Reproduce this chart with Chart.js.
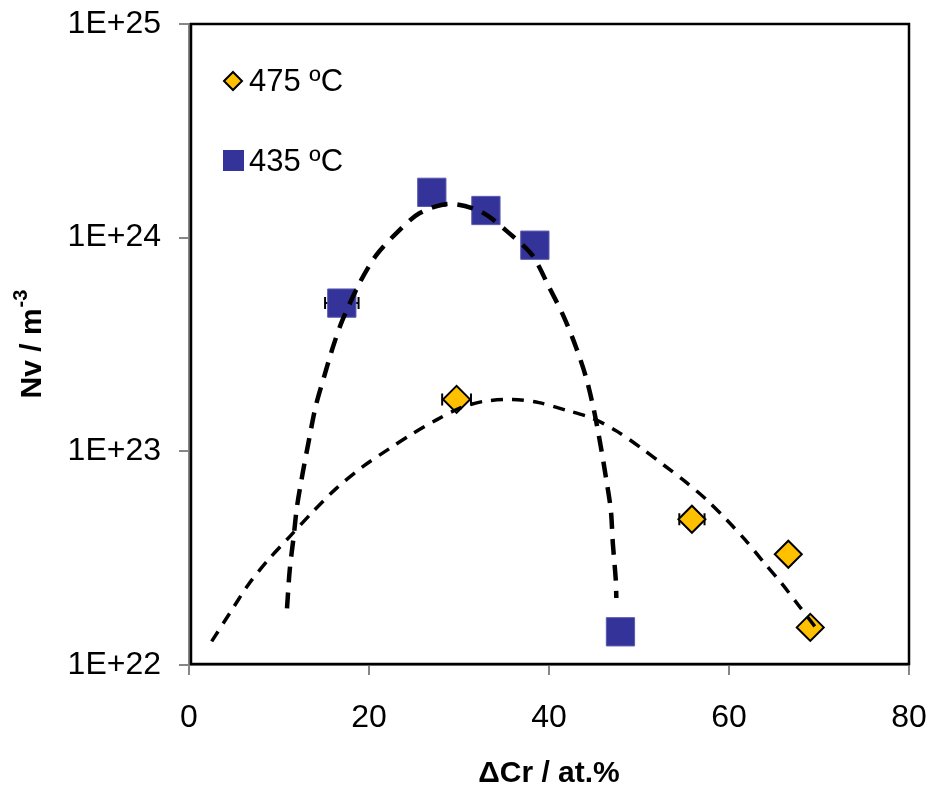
<!DOCTYPE html>
<html lang="en">
<head>
<meta charset="UTF-8">
<title>Nv vs Cr</title>
<script src="https://cdn.jsdelivr.net/npm/chart.js"></script>
<style>
  html, body { margin: 0; padding: 0; background: #fff; }
</style>
</head>
<body>
<canvas id="viz" width="930" height="785"></canvas>
<script>
// measured points
const blueX = [16.98, 26.98, 32.99, 38.43, 47.94]
const blueY = [4.94e23, 1.63e24, 1.34e24, 9.22e23, 1.43e22]
const blueXErr = [1.86, 0, 0, 0, 0]

const yellowX = [29.73, 55.88, 66.59, 69.03]
const yellowY = [1.75e23, 4.81e22, 3.30e22, 1.50e22]
const yellowXErr = [1.6, 1.4, 0, 0]

// trend lines
const blueFitX = [10.89, 11.19, 11.63, 12.00, 12.66, 13.33, 14.07, 15.07, 16.07, 17.06, 18.95, 20.83, 23.05, 25.60, 28.90, 32.47, 35.57, 38.12, 40.00, 41.66, 42.99, 44.10, 44.99, 45.76, 46.32, 46.87, 47.09, 47.42, 47.48]
const blueFitY = [1.84e22, 2.78e22, 3.99e22, 5.51e22, 8.03e22, 1.13e23, 1.62e23, 2.28e23, 3.15e23, 4.12e23, 6.13e23, 8.30e23, 1.05e24, 1.30e24, 1.44e24, 1.32e24, 1.05e24, 8.30e23, 5.88e23, 4.25e23, 3.08e23, 2.23e23, 1.56e23, 1.05e23, 7.58e22, 5.31e22, 3.72e22, 2.50e22, 2.06e22]

const yellowFitX = [2.52, 4.54, 6.57, 8.79, 11.19, 13.60, 16.37, 19.31, 22.27, 24.85, 27.45, 30.03, 32.61, 35.93, 38.89, 41.85, 44.80, 47.57, 50.34, 52.74, 55.15, 57.54, 59.76, 61.80, 63.82, 65.85, 67.70, 70.11]
const yellowFitY = [1.29e22, 1.75e22, 2.37e22, 3.10e22, 3.99e22, 5.13e22, 6.71e22, 8.48e22, 1.03e23, 1.21e23, 1.40e23, 1.59e23, 1.71e23, 1.75e23, 1.69e23, 1.56e23, 1.43e23, 1.24e23, 1.03e23, 8.63e22, 7.21e22, 5.92e22, 4.77e22, 3.85e22, 3.04e22, 2.41e22, 1.91e22, 1.41e22]

const yTickValues = [1e22, 1e23, 1e24, 1e25]
const yTickLabels = ['1E+22', '1E+23', '1E+24', '1E+25']
const seriesNames = ['475 ºC', '435 ºC']

const FONT = "'Liberation Sans', Arial, sans-serif"
const pts = (xs, ys) => xs.map((x, i) => ({ x: x, y: ys[i] }))

// fixed box sizes so the plot area lands where the original one is
const noOverhang = (s) => {
  s.paddingLeft = 0; s.paddingRight = 0; s.paddingTop = 0; s.paddingBottom = 0
}

const frame = {
  id: 'frame',
  beforeDatasetsDraw(chart) {
    const { ctx, scales: { x, y } } = chart
    // error bars behind the markers
    ctx.save()
    ctx.strokeStyle = '#000'
    ctx.lineWidth = 2
    const bars = [[blueX, blueY, blueXErr], [yellowX, yellowY, yellowXErr]]
    bars.forEach(([xs, ys, errs]) => {
      xs.forEach((v, i) => {
        if (!errs[i]) return
        const py = y.getPixelForValue(ys[i])
        const a = x.getPixelForValue(v - errs[i])
        const b = x.getPixelForValue(v + errs[i])
        ctx.beginPath()
        ctx.moveTo(a, py); ctx.lineTo(b, py)
        ctx.moveTo(a, py - 6); ctx.lineTo(a, py + 6)
        ctx.moveTo(b, py - 6); ctx.lineTo(b, py + 6)
        ctx.stroke()
      })
    })
    ctx.restore()
  },
  afterDraw(chart) {
    const { ctx, chartArea: ca } = chart
    ctx.save()
    // plot border
    ctx.strokeStyle = '#000'
    ctx.lineWidth = 2.5
    ctx.strokeRect(ca.left + 2, ca.top, ca.right - ca.left - 2, ca.bottom - ca.top - 1)

    // legend inside the plot
    const lx = ca.left + 44
    ctx.fillStyle = '#FFC000'
    ctx.strokeStyle = '#000'
    ctx.lineWidth = 2
    ctx.beginPath()
    ctx.moveTo(lx - 9, ca.top + 57)
    ctx.lineTo(lx, ca.top + 48)
    ctx.lineTo(lx + 9, ca.top + 57)
    ctx.lineTo(lx, ca.top + 66)
    ctx.closePath()
    ctx.fill(); ctx.stroke()
    ctx.fillStyle = '#333399'
    ctx.fillRect(lx - 10, ca.top + 126, 21, 21)

    ctx.fillStyle = '#000'
    ctx.font = '31px ' + FONT
    ctx.textBaseline = 'middle'
    ctx.textAlign = 'left'
    ctx.fillText(seriesNames[0], lx + 16, ca.top + 58)
    ctx.fillText(seriesNames[1], lx + 16, ca.top + 138)

    // y title with superscript
    ctx.translate(31, (ca.top + ca.bottom) / 2)
    ctx.rotate(-Math.PI / 2)
    ctx.font = 'bold 30px ' + FONT
    const main = 'Nv / m'
    const w1 = ctx.measureText(main).width
    ctx.font = 'bold 20px ' + FONT
    const w2 = ctx.measureText('-3').width
    const sx = -(w1 + w2) / 2
    ctx.font = 'bold 30px ' + FONT
    ctx.fillText(main, sx, 2)
    ctx.font = 'bold 20px ' + FONT
    ctx.fillText('-3', sx + w1 + 1, -10)
    ctx.restore()
  }
}

const chart = new Chart(document.getElementById('viz'), {
  type: 'scatter',
  data: {
    datasets: [
      {
        label: 'fit 435',
        data: pts(blueFitX, blueFitY),
        showLine: true,
        borderColor: '#000',
        borderWidth: 4.5,
        borderDash: [16, 10],
        pointRadius: 0,
        tension: 0.3
      },
      {
        label: 'fit 475',
        data: pts(yellowFitX, yellowFitY),
        showLine: true,
        borderColor: '#000',
        borderWidth: 3.5,
        borderDash: [12, 9],
        pointRadius: 0,
        tension: 0.3
      },
      {
        label: seriesNames[0],
        data: pts(yellowX, yellowY),
        pointStyle: 'rectRot',
        pointRadius: 13.5,
        backgroundColor: '#FFC000',
        borderColor: '#000',
        borderWidth: 2
      },
      {
        label: seriesNames[1],
        data: pts(blueX, blueY),
        pointStyle: 'rect',
        pointRadius: 20,
        backgroundColor: '#333399',
        borderColor: '#5a5ab0',
        borderWidth: 1
      }
    ]
  },
  options: {
    responsive: false,
    animation: false,
    layout: { padding: { top: 24, right: 19, left: 0, bottom: 0 } },
    plugins: {
      legend: { display: false },
      tooltip: { enabled: false }
    },
    scales: {
      x: {
        type: 'linear',
        min: 0,
        max: 80,
        afterFit: s => { s.height = 120; noOverhang(s) },
        ticks: {
          stepSize: 20,
          color: '#000',
          font: { family: FONT, size: 32 },
          padding: 24
        },
        grid: { drawOnChartArea: false, tickLength: 10, color: '#868686', lineWidth: 2 },
        border: { color: '#868686', width: 2 },
        title: {
          display: true,
          text: 'ΔCr / at.%',
          color: '#000',
          font: { family: FONT, size: 30, weight: 'bold' },
          padding: { top: 0, bottom: -7 }
        }
      },
      y: {
        type: 'logarithmic',
        min: 1e22,
        max: 1e25,
        afterFit: s => { s.width = 189; noOverhang(s) },
        afterBuildTicks: s => { s.ticks = yTickValues.map(v => ({ value: v })) },
        ticks: {
          color: '#000',
          font: { family: FONT, size: 32 },
          padding: 18,
          callback: v => yTickLabels[yTickValues.indexOf(v)]
        },
        grid: { drawOnChartArea: false, tickLength: 10, color: '#868686', lineWidth: 2 },
        border: { color: '#868686', width: 2 }
      }
    }
  },
  plugins: [frame]
})
</script>
</body>
</html>
